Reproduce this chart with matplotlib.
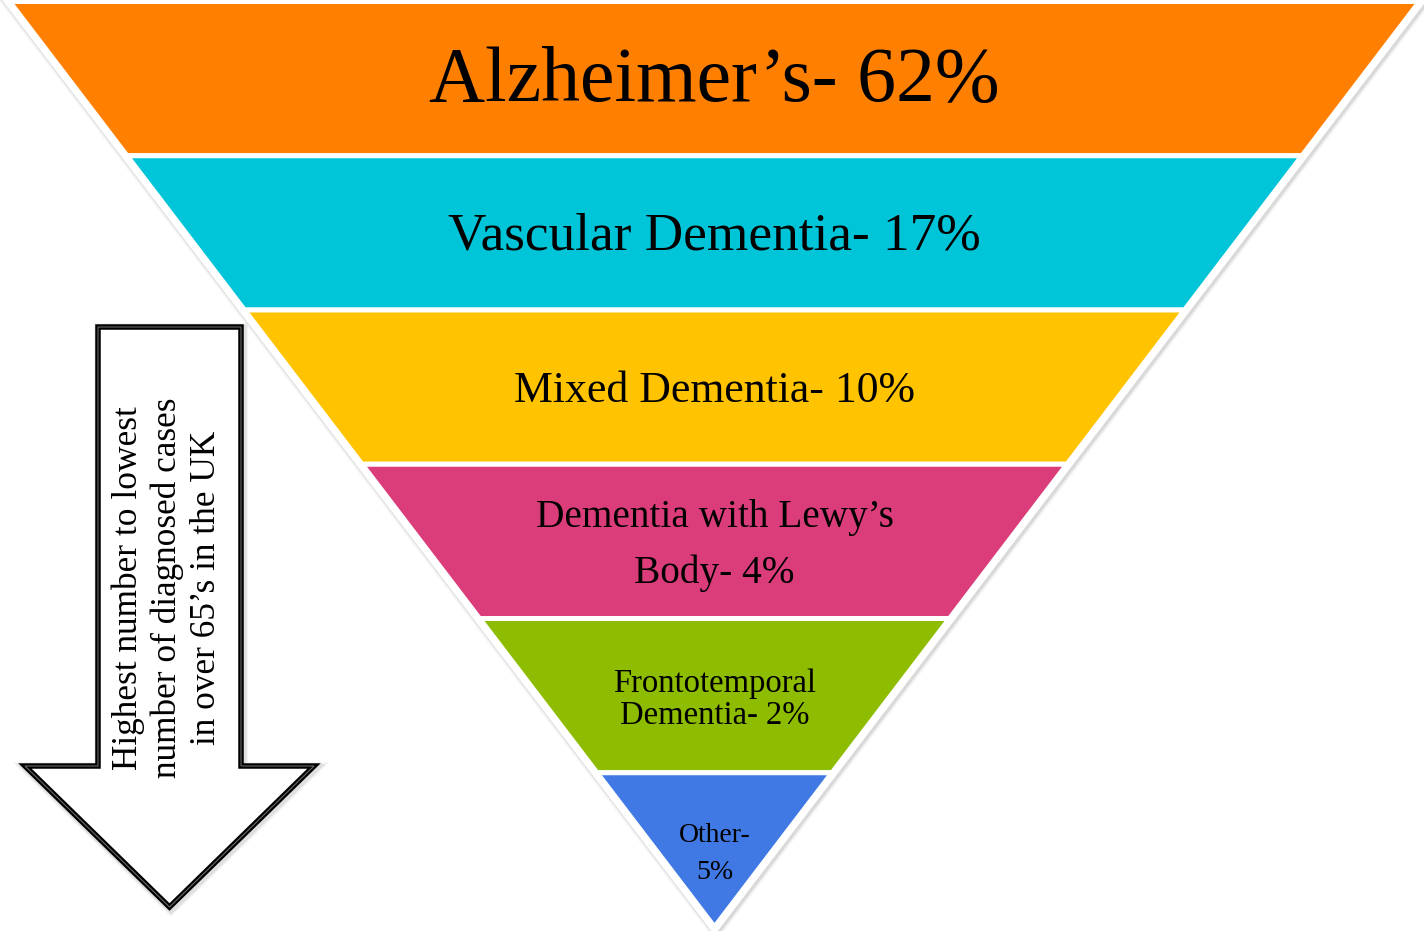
import numpy as np
import matplotlib
matplotlib.use("Agg")
import matplotlib.pyplot as plt
from matplotlib.patches import Polygon

# dementia types in over 65's in the UK, most to least common
labels = ["Alzheimer\u2019s", "Vascular Dementia", "Mixed Dementia",
          "Dementia with Lewy\u2019s\nBody", "Frontotemporal\nDementia", "Other"]
percents = [62, 17, 10, 4, 2, 5]
colors = ["#FF8000", "#00C4D8", "#FFC300", "#DA3D7A", "#8DBC00", "#4079E3"]
font_sizes = [56, 38.3, 31.5, 28.3, 23.5, 20]
line_spacing = [1.2, 1.2, 1.2, 1.66, 1.07, 1.66]
arrow_text = "Highest number to lowest\nnumber of diagnosed cases\nin over 65\u2019s in the UK"

W, H = 1424, 931
fig = plt.figure(figsize=(W / 100, H / 100), dpi=100)
ax = fig.add_axes([0, 0, 1, 1])
ax.set_xlim(0, W)
ax.set_ylim(H, 0)
ax.axis("off")

px = 72 / 100  # points per pixel

# inverted pyramid geometry
cx, y_top, y_apex, half_w = 714.5, 1.5, 927.0, 705.0
n = len(labels)
band_h = (y_apex - y_top) / n


def half_width(y):
    return half_w * (y_apex - y) / (y_apex - y_top)


outline = [(cx - half_w, y_top), (cx + half_w, y_top), (cx, y_apex)]
# soft shadow and white rim around the whole pyramid
for lw, a in [(16, 0.03), (13, 0.05), (11, 0.07)]:
    ax.add_patch(Polygon(np.array(outline) + [1.5, 2], closed=True, fc="none",
                         ec=(0, 0, 0, a), lw=lw * px, joinstyle="miter"))
ax.add_patch(Polygon(outline, closed=True, fc="white", ec="white",
                     lw=10 * px, joinstyle="miter"))

for i, (lab, pct, col) in enumerate(zip(labels, percents, colors)):
    y0 = y_top + i * band_h
    y1 = y0 + band_h
    pts = [(cx - half_width(y0), y0), (cx + half_width(y0), y0),
           (cx + half_width(y1), y1), (cx - half_width(y1), y1)]
    ax.add_patch(Polygon(pts, closed=True, fc=col, ec="white", lw=5 * px,
                         joinstyle="miter"))
    text = f"{lab}- {pct}%"
    if lab == "Other":
        text = f"{lab}-\n{pct}%"
    ax.text(cx, (y0 + y1) / 2 + 4, text, ha="center", va="center",
            multialignment="center", fontsize=font_sizes[i],
            linespacing=line_spacing[i], family="Liberation Serif", color="black")

# down arrow on the left
arrow = [(98, 327), (241, 327), (241, 766), (314, 766), (169.5, 907),
         (25, 766), (98, 766)]
for lw, a in [(11, 0.05), (8, 0.08)]:
    ax.add_patch(Polygon(np.array(arrow) + [1.5, 2], closed=True, fc="none",
                         ec=(0, 0, 0, a), lw=lw * px, joinstyle="miter"))
ax.add_patch(Polygon(arrow, closed=True, fc="white", ec="black", lw=5.5 * px,
                     joinstyle="miter"))
ax.add_patch(Polygon(arrow, closed=True, fc="none", ec=(0.45, 0.45, 0.45),
                     lw=1 * px, joinstyle="miter"))
ax.text(167, 588, arrow_text, rotation=90, ha="center", va="center",
        multialignment="center", fontsize=25.4, linespacing=1.22,
        family="Liberation Serif", color="black")

fig.savefig("out.png", dpi=100, facecolor="white")
